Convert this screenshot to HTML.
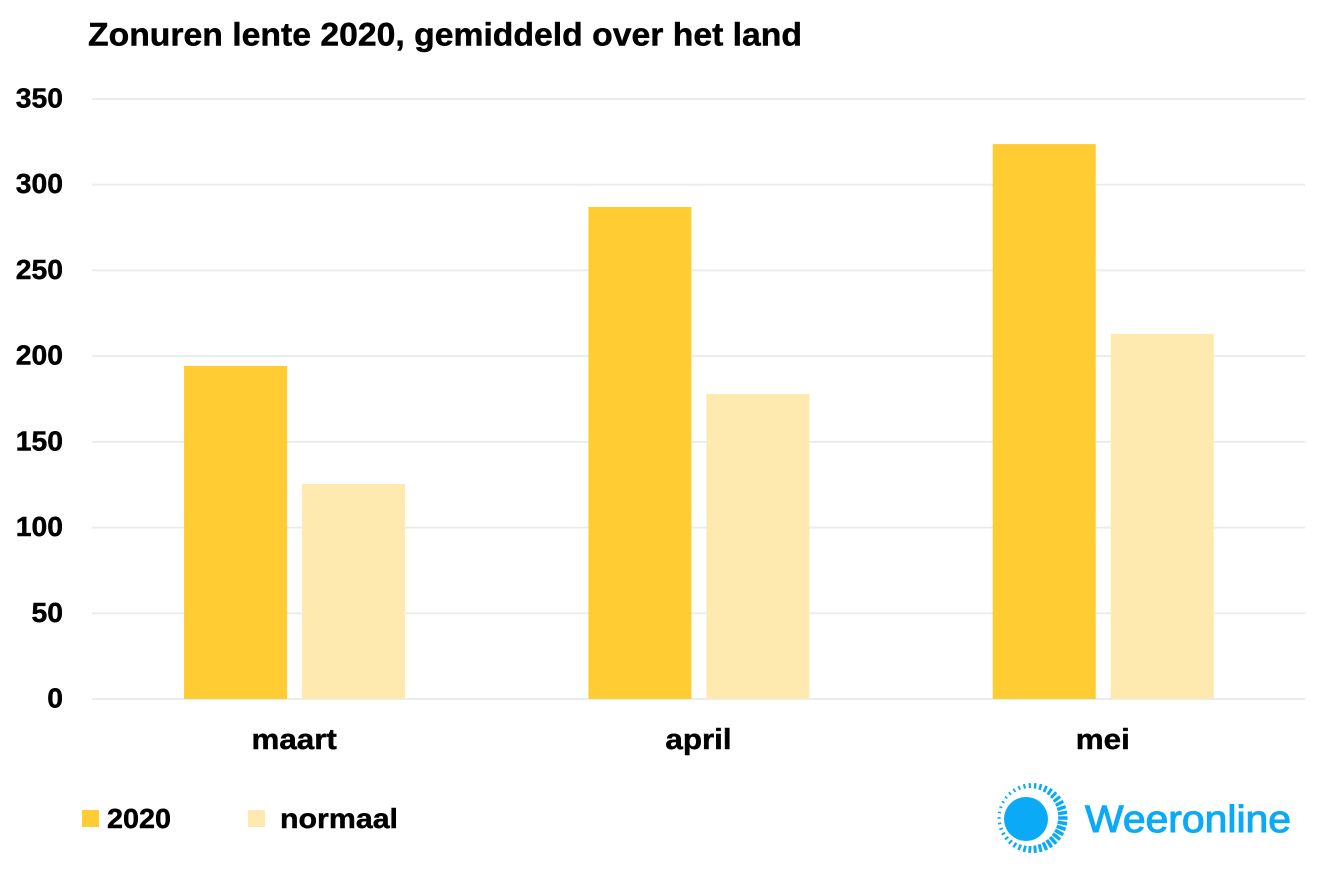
<!DOCTYPE html>
<html lang="nl">
<head>
<meta charset="utf-8">
<title>Zonuren lente 2020</title>
<style>
html,body{margin:0;padding:0;background:#fff;width:1327px;height:877px;overflow:hidden}
svg{display:block}
text{font-family:"Liberation Sans",sans-serif;font-weight:700;fill:#000;stroke:#000;stroke-width:.45}
</style>
</head>
<body>
<svg id="chart" xmlns="http://www.w3.org/2000/svg" width="1327" height="877" viewBox="0 0 1327 877">
  <rect x="0" y="0" width="1327" height="877" fill="#ffffff"/>
  <text x="88" y="45.5" font-size="32" textLength="714" lengthAdjust="spacingAndGlyphs">Zonuren lente 2020, gemiddeld over het land</text>
  <g id="grid"></g>
  <g id="yticks"></g>
  <g id="bars"></g>
  <g id="xticks"></g>
  <g>
    <g>
      <rect x="82" y="810" width="17" height="17" fill="#ffcc33"/>
      <text x="107" y="828" font-size="27.5" textLength="64" lengthAdjust="spacingAndGlyphs">2020</text>
    </g>
    <g>
      <rect x="248" y="810" width="17" height="17" fill="#feeaae"/>
      <text x="280" y="828" font-size="28" textLength="118" lengthAdjust="spacingAndGlyphs">normaal</text>
    </g>
  </g>
  <g>
    <g id="rays"></g>
    <circle cx="1026" cy="819" r="22" fill="#0aaaf7"/>
    <text x="1085" y="832" font-size="38" textLength="206" lengthAdjust="spacingAndGlyphs" style="font-weight:400;fill:#0aaaf7;stroke:#0aaaf7;stroke-width:1">Weeronline</text>
  </g>
</svg>
<script>
const categories = ['maart', 'april', 'mei'];
const series2020 = [194.3, 287, 323.7];
const seriesNormaal = [125.4, 178, 213];
const tickValues = [0, 50, 100, 150, 200, 250, 300, 350];

const NS = 'http://www.w3.org/2000/svg';
const plotLeft = 92, plotRight = 1305, plotTop = 99, plotBottom = 699, axisMax = 350;
const barWidth = 103, barGap = 15;
function yScale(v){ return plotBottom - (v / axisMax) * (plotBottom - plotTop); }
function bandCenter(i){ return plotLeft + (plotRight - plotLeft) * (i + 0.5) / categories.length; }
function make(tag, attrs, parent){
  const el = document.createElementNS(NS, tag);
  for (const k in attrs) el.setAttribute(k, attrs[k]);
  parent.appendChild(el);
  return el;
}
function widen(el, factor){
  el.setAttribute('textLength', el.getComputedTextLength() * factor);
  el.setAttribute('lengthAdjust', 'spacingAndGlyphs');
}
const grid = document.getElementById('grid');
const yticks = document.getElementById('yticks');
tickValues.forEach(function(t){
  const line = make('line', {x1: plotLeft, x2: plotRight, y1: yScale(t), y2: yScale(t), stroke: '#e9edf0', 'stroke-width': 2}, grid);
  
  
  const label = make('text', {x: 63, y: yScale(t) + 8.5, 'text-anchor': 'end', 'font-size': 27.5}, yticks);
  
  
  label.textContent = t;
  widen(label, 1.03);
});
const bars = document.getElementById('bars');
const xticks = document.getElementById('xticks');
categories.forEach(function(c, i){
  const cx = bandCenter(i) + 0.4;
  const a = make('rect', {x: cx - barGap / 2 - barWidth, y: yScale(series2020[i]), width: barWidth, height: plotBottom - yScale(series2020[i]), fill: '#ffcc33'}, bars);
  
  
  const b = make('rect', {x: cx + barGap / 2, y: yScale(seriesNormaal[i]), width: barWidth, height: plotBottom - yScale(seriesNormaal[i]), fill: '#feeaae'}, bars);
  
  
  const label = make('text', {x: cx - 0.4, y: 749, 'text-anchor': 'middle', 'font-size': 28.5}, xticks);
  
  
  label.textContent = c;
  widen(label, 1.1);
});
const rays = document.getElementById('rays');
const rayCount = 38;
for (let i = 0; i < rayCount; i++) {
  const ang = (i / rayCount) * 2 * Math.PI;
  const weight = (1 + Math.cos(ang - 0.3)) / 2;
  const rOuter = 35;
  const len = 3 + 6.5 * weight;
  const wid = 1.6 + 2 * weight;
  const cx0 = 1032.5, cy0 = 818;
  const ray = make('line', {
    x1: cx0 + (rOuter - len) * Math.cos(ang), y1: cy0 + (rOuter - len) * Math.sin(ang),
    x2: cx0 + rOuter * Math.cos(ang), y2: cy0 + rOuter * Math.sin(ang),
    stroke: '#0aaaf7', 'stroke-width': wid
  }, rays);
  
  
}
</script>
</body>
</html>
